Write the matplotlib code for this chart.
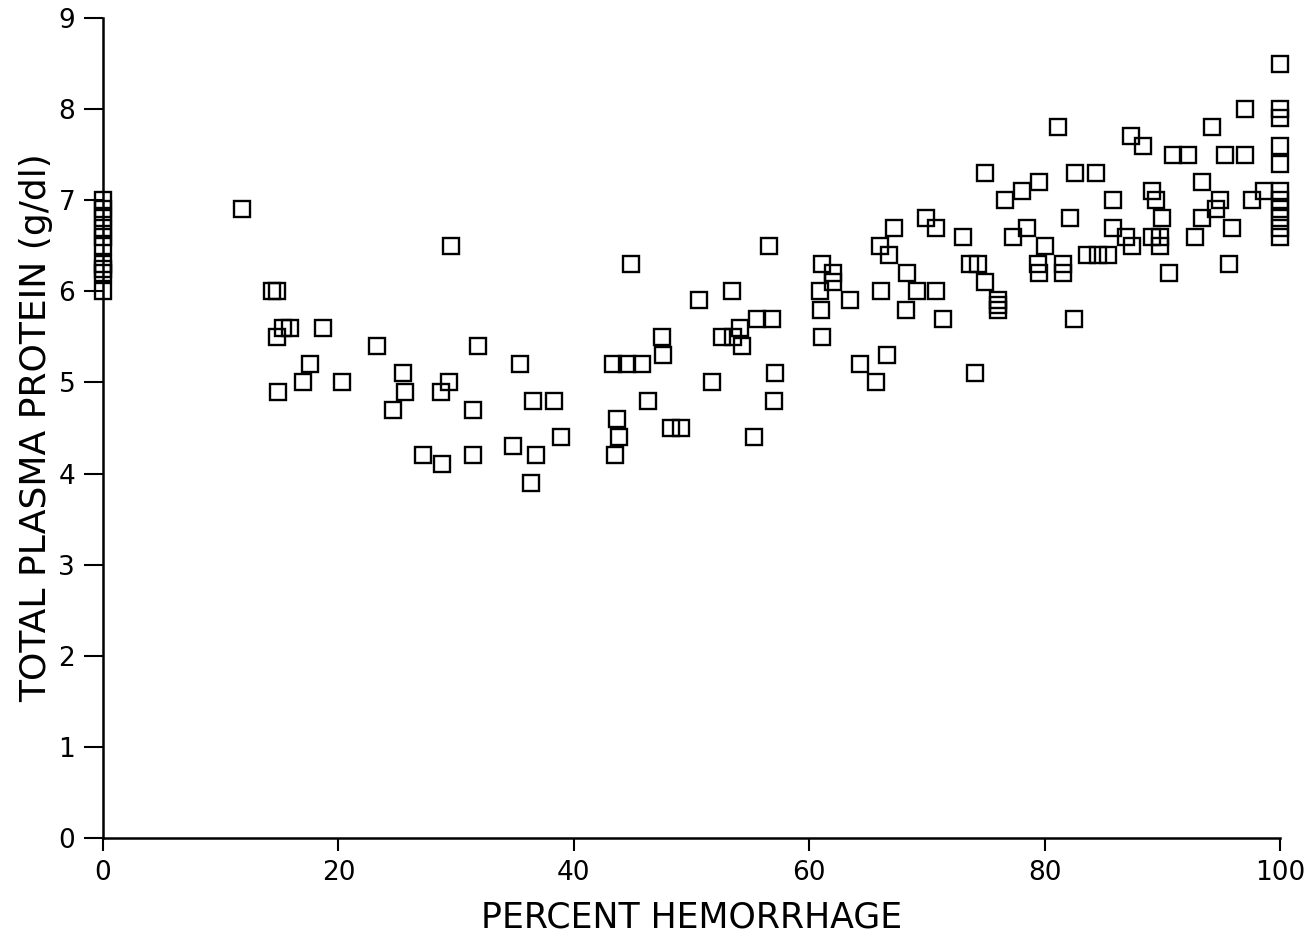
import matplotlib
matplotlib.use("Agg")
import matplotlib.pyplot as plt

# x = percent hemorrhage, y = total plasma protein (g/dl)
x_vals = [
    0, 0, 0, 0, 0, 0, 0, 0, 0, 0,
    11.8,
    14.4, 14.8, 14.8, 15.3, 15.9, 18.7, 17.6, 17.0, 14.9, 20.3,
    23.3, 29.6, 31.9, 25.5, 25.7, 29.4, 28.7, 24.6, 31.4, 35.4,
    27.2, 28.8, 31.4, 36.5, 38.3, 34.8, 36.8, 38.9, 36.4,
    43.3, 44.5, 45.8, 44.9, 47.5, 47.6, 46.3, 43.7, 43.8, 43.5, 48.3, 49.1,
    56.6, 50.6, 53.4, 51.7, 55.3, 57.1, 57.0, 52.6, 53.5, 54.1, 54.3, 55.6, 56.8,
    61.1, 62.0, 62.0, 60.9, 61.0, 63.5, 61.1, 64.3, 66.6, 65.7, 66.1, 68.2, 68.3,
    66.0, 66.8, 67.2, 69.9, 70.8, 69.2, 70.8, 71.4, 73.1, 73.7, 74.3, 74.1,
    100, 100, 100, 100, 100, 100, 100, 100, 100, 100, 100,
    97.0, 94.2, 81.1, 87.3, 88.4, 90.9, 92.2, 95.3, 97.0,
    74.9, 82.6, 84.4, 79.5, 78.1, 76.6, 85.8, 89.1, 89.5, 93.4, 94.9, 94.6,
    97.6, 98.6, 90.0, 93.4, 82.2, 95.9, 78.5, 77.3, 80.0, 85.8, 86.9, 87.4,
    89.1, 89.8, 89.8, 92.8, 83.6, 84.5, 85.4, 74.9, 76.0, 76.0, 76.0,
    79.4, 79.5, 81.6, 81.6, 82.5, 90.6, 95.7,
]
y_vals = [
    7.0, 6.9, 6.8, 6.7, 6.6, 6.5, 6.3, 6.25, 6.2, 6.0,
    6.9,
    6.0, 6.0, 5.5, 5.6, 5.6, 5.6, 5.2, 5.0, 4.9, 5.0,
    5.4, 6.5, 5.4, 5.1, 4.9, 5.0, 4.9, 4.7, 4.7, 5.2,
    4.2, 4.1, 4.2, 4.8, 4.8, 4.3, 4.2, 4.4, 3.9,
    5.2, 5.2, 5.2, 6.3, 5.5, 5.3, 4.8, 4.6, 4.4, 4.2, 4.5, 4.5,
    6.5, 5.9, 6.0, 5.0, 4.4, 5.1, 4.8, 5.5, 5.5, 5.6, 5.4, 5.7, 5.7,
    6.3, 6.2, 6.1, 6.0, 5.8, 5.9, 5.5, 5.2, 5.3, 5.0, 6.0, 5.8, 6.2,
    6.5, 6.4, 6.7, 6.8, 6.7, 6.0, 6.0, 5.7, 6.6, 6.3, 6.3, 5.1,
    8.5, 8.0, 7.9, 7.6, 7.4, 7.1, 7.0, 6.9, 6.8, 6.7, 6.6,
    8.0, 7.8, 7.8, 7.7, 7.6, 7.5, 7.5, 7.5, 7.5,
    7.3, 7.3, 7.3, 7.2, 7.1, 7.0, 7.0, 7.1, 7.0, 7.2, 7.0, 6.9,
    7.0, 7.1, 6.8, 6.8, 6.8, 6.7, 6.7, 6.6, 6.5, 6.7, 6.6, 6.5,
    6.6, 6.6, 6.5, 6.6, 6.4, 6.4, 6.4, 6.1, 5.9, 5.85, 5.8,
    6.3, 6.2, 6.3, 6.2, 5.7, 6.2, 6.3,
]

x_ticks = [0, 20, 40, 60, 80, 100]
y_ticks = [0, 1, 2, 3, 4, 5, 6, 7, 8, 9]

plt.rcParams['font.family'] = ['DejaVu Sans']

fig = plt.figure(figsize=(13.12, 9.40), dpi=100)
ax = fig.add_axes([103/1312, 1 - 838/940, (1280-103)/1312, (838-18)/940])

ax.plot(x_vals, y_vals, linestyle='none', marker='s', markersize=11.5,
        markerfacecolor='none', markeredgecolor='black', markeredgewidth=1.7,
        clip_on=False)

ax.set_xlim(0, 100)
ax.set_ylim(0, 9)
ax.set_xticks(x_ticks)
ax.set_yticks(y_ticks)
ax.spines['top'].set_visible(False)
ax.spines['right'].set_visible(False)
ax.spines['left'].set_linewidth(1.8)
ax.spines['bottom'].set_linewidth(1.8)
ax.tick_params(axis='x', direction='out', length=9, width=1.5, labelsize=19, pad=7)
ax.tick_params(axis='y', direction='out', length=14, width=1.5, labelsize=19, pad=6)
ax.set_xlabel('PERCENT HEMORRHAGE', fontsize=25, labelpad=10)
ax.set_ylabel('TOTAL PLASMA PROTEIN (g/dl)', fontsize=26, labelpad=4)

fig.savefig('out.png', dpi=100)
